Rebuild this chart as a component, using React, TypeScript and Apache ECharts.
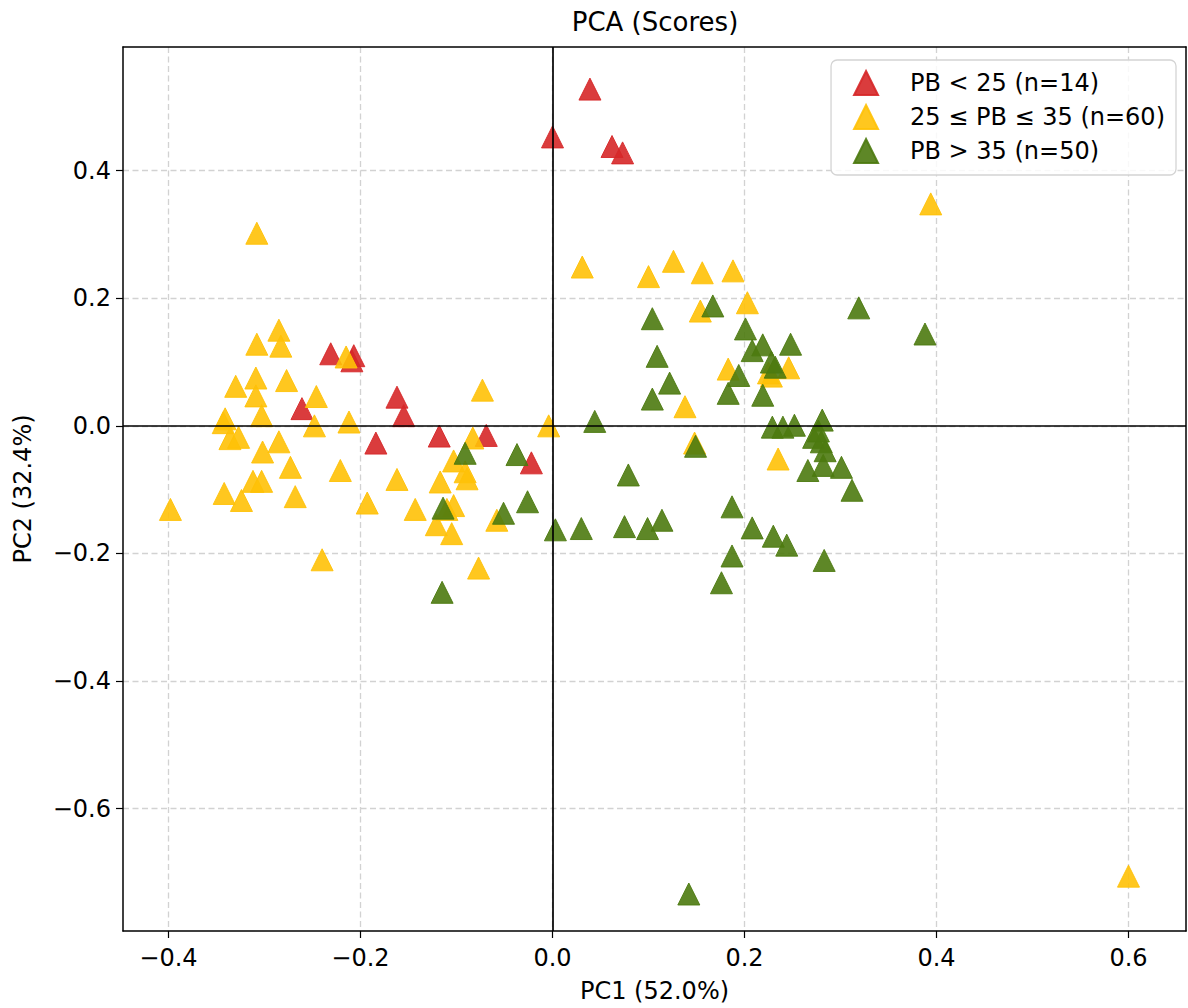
import React, { useEffect, useRef } from "react";
import * as echarts from "echarts";

const TITLE = "PCA (Scores)";
const X_LABEL = "PC1 (52.0%)";
const Y_LABEL = "PC2 (32.4%)";
const X_TICKS = [-0.4, -0.2, 0.0, 0.2, 0.4, 0.6];
const Y_TICKS = [-0.6, -0.4, -0.2, 0.0, 0.2, 0.4];
const X_RANGE = [-0.4474, 0.6599];
const Y_RANGE = [-0.792, 0.594];
const ZERO_LINES = [{ xAxis: 0 }, { yAxis: 0 }];

const LOW_NAME = "PB < 25 (n=14)";
const MID_NAME = "25 ≤ PB ≤ 35 (n=60)";
const HIGH_NAME = "PB > 35 (n=50)";

const LOW_COLOR = "#d62728";
const MID_COLOR = "#ffc107";
const HIGH_COLOR = "#4c7a10";

const lowPB: number[][] = [
  [0.039, 0.528], [0.0, 0.453], [0.062, 0.438], [0.073, 0.428],
  [-0.231, 0.113], [-0.207, 0.11], [-0.209, 0.102], [-0.261, 0.027],
  [-0.162, 0.045], [-0.155, 0.016], [-0.184, -0.027], [-0.118, -0.016],
  [-0.069, -0.015], [-0.022, -0.058],
];

const midPB: number[][] = [
  [0.394, 0.348], [0.6, -0.706], [-0.308, 0.302], [-0.285, 0.15],
  [-0.283, 0.125], [-0.308, 0.128], [-0.215, 0.108], [-0.33, 0.062],
  [-0.309, 0.075], [-0.277, 0.071], [-0.309, 0.047], [-0.246, 0.046],
  [-0.303, 0.016], [-0.341, 0.011], [-0.336, -0.02], [-0.327, -0.018],
  [-0.248, 0.0], [-0.212, 0.006], [-0.285, -0.025], [-0.302, -0.041],
  [-0.273, -0.065], [-0.221, -0.07], [-0.312, -0.087], [-0.303, -0.087],
  [-0.342, -0.106], [-0.324, -0.117], [-0.268, -0.111], [-0.193, -0.121],
  [-0.398, -0.131], [-0.24, -0.21], [-0.162, -0.084], [-0.143, -0.131],
  [-0.117, -0.088], [-0.121, -0.155], [-0.105, -0.169], [-0.103, -0.125],
  [-0.103, -0.055], [-0.091, -0.072], [-0.089, -0.083], [-0.083, -0.019],
  [-0.073, 0.056], [-0.004, 0.0], [-0.058, -0.148], [-0.077, -0.223],
  [0.031, 0.249], [0.1, 0.234], [0.126, 0.258], [0.156, 0.24],
  [0.188, 0.243], [0.154, 0.18], [0.203, 0.193], [0.183, 0.089],
  [0.225, 0.083], [0.246, 0.091], [0.138, 0.03], [0.148, -0.027],
  [0.235, -0.052], [-0.343, 0.005], [0.228, 0.078], [-0.11, -0.131],
];

const highPB: number[][] = [
  [0.142, -0.734], [0.388, 0.144], [0.319, 0.185], [0.167, 0.188],
  [0.104, 0.168], [0.201, 0.152], [0.208, 0.118], [0.219, 0.127],
  [0.248, 0.128], [0.228, 0.1], [0.232, 0.092], [0.194, 0.079],
  [0.109, 0.109], [0.122, 0.067], [0.183, 0.051], [0.219, 0.048],
  [0.104, 0.042], [0.044, 0.007], [0.229, -0.002], [0.24, -0.002],
  [0.252, 0.001], [0.281, 0.009], [0.272, -0.018], [0.28, -0.025],
  [0.284, -0.039], [0.149, -0.032], [0.266, -0.07], [0.282, -0.062],
  [0.301, -0.065], [0.312, -0.101], [0.079, -0.077], [0.187, -0.127],
  [0.208, -0.16], [0.23, -0.173], [0.244, -0.187], [0.283, -0.211],
  [0.187, -0.204], [0.176, -0.246], [0.114, -0.148], [0.099, -0.161],
  [0.075, -0.158], [0.03, -0.161], [0.003, -0.163], [-0.026, -0.119],
  [-0.051, -0.137], [-0.114, -0.129], [-0.091, -0.043], [-0.037, -0.045],
  [-0.115, -0.261], [0.277, -0.008],
];

const FONT = "DejaVu Sans";
const fmt = (v: number) => (v < 0 ? "\u2212" : "") + Math.abs(v).toFixed(1);

function scatter(name: string, data: number[][], color: string, extra: any = {}) {
  return {
    name,
    type: "scatter",
    data,
    symbol: "triangle",
    symbolSize: 22,
    itemStyle: { color, opacity: 0.9, borderColor: color, borderWidth: 1 },
    ...extra,
  };
}

export default function App() {
  const ref = useRef<HTMLDivElement>(null);
  useEffect(() => {
    if (!ref.current) return;
    const chart = echarts.init(ref.current, undefined, { renderer: "svg" });
    const splitLine = {
      show: true,
      lineStyle: { color: "#d2d2d2", width: 1.3, type: [6, 3.5] },
    };
    chart.setOption({
      animation: false,
      backgroundColor: "#fff",
      grid: { left: 123, right: 2, top: 47, bottom: 74, containLabel: false },
      graphic: [
        {
          type: "text",
          x: 655,
          y: 22,
          style: {
            text: TITLE,
            fill: "#000",
            font: `26px "${FONT}"`,
            textAlign: "center",
            textVerticalAlign: "middle",
          },
        },
      ],
      xAxis: [
        {
          type: "value",
          min: X_RANGE[0],
          max: X_RANGE[1],
          position: "bottom",
          axisLine: { show: true, onZero: false, lineStyle: { color: "#000", width: 1.5 } },
          axisTick: { show: true, customValues: X_TICKS, length: 7, lineStyle: { color: "#000", width: 1.2 } },
          axisLabel: {
            customValues: X_TICKS,
            formatter: fmt,
            color: "#000",
            fontSize: 24,
            fontFamily: FONT,
            margin: 15,
          },
          splitLine,
          name: X_LABEL,
          nameLocation: "middle",
          nameGap: 48,
          nameTextStyle: { color: "#000", fontSize: 24, fontFamily: FONT },
        },
        {
          type: "value",
          min: X_RANGE[0],
          max: X_RANGE[1],
          position: "top",
          axisLine: { show: true, onZero: false, lineStyle: { color: "#000", width: 1.5 } },
          axisTick: { show: false },
          axisLabel: { show: false },
          splitLine: { show: false },
        },
      ],
      yAxis: [
        {
          type: "value",
          min: Y_RANGE[0],
          max: Y_RANGE[1],
          position: "left",
          axisLine: { show: true, onZero: false, lineStyle: { color: "#000", width: 1.5 } },
          axisTick: { show: true, customValues: Y_TICKS, length: 7, lineStyle: { color: "#000", width: 1.2 } },
          axisLabel: {
            customValues: Y_TICKS,
            formatter: fmt,
            color: "#000",
            fontSize: 24,
            fontFamily: FONT,
            margin: 12,
          },
          splitLine,
          name: Y_LABEL,
          nameLocation: "middle",
          nameGap: 88,
          nameTextStyle: { color: "#000", fontSize: 24, fontFamily: FONT },
        },
        {
          type: "value",
          min: Y_RANGE[0],
          max: Y_RANGE[1],
          position: "right",
          axisLine: { show: true, onZero: false, lineStyle: { color: "#000", width: 1.5 } },
          axisTick: { show: false },
          axisLabel: { show: false },
          splitLine: { show: false },
        },
      ],
      legend: {
        orient: "vertical",
        right: 12,
        top: 60,
        padding: [10, 11, 11, 22],
        itemWidth: 24,
        itemHeight: 24,
        itemGap: 8,
        icon: "triangle",
        backgroundColor: "rgba(255,255,255,0.85)",
        borderColor: "#d4d4d4",
        borderWidth: 1.3,
        borderRadius: 6,
        textStyle: { fontSize: 24, fontFamily: FONT, color: "#000", padding: [0, 0, 0, 27] },
        data: [LOW_NAME, MID_NAME, HIGH_NAME],
      },
      series: [
        scatter(LOW_NAME, lowPB, LOW_COLOR),
        scatter(MID_NAME, midPB, MID_COLOR),
        scatter(HIGH_NAME, highPB, HIGH_COLOR, {
          markLine: {
            silent: true,
            symbol: ["none", "none"],
            label: { show: false },
            lineStyle: { color: "#000", width: 1.7, type: "solid" },
            data: ZERO_LINES,
          },
        }),
      ],
    });
    return () => chart.dispose();
  }, []);
  return (
    <div
      ref={ref}
      style={{ position: "absolute", left: 0, top: 0, width: 1188, height: 1008, background: "#fff" }}
    />
  );
}
